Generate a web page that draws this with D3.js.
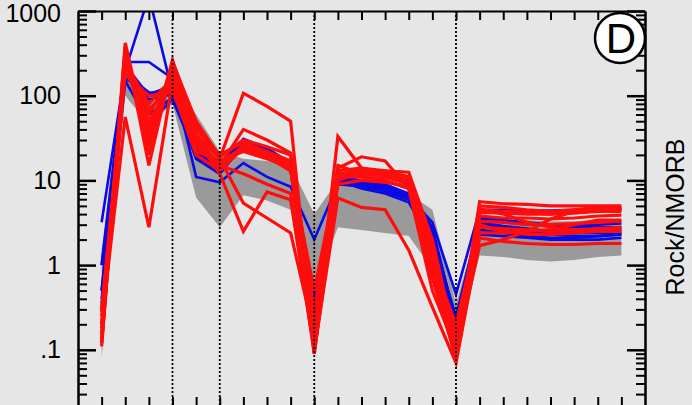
<!DOCTYPE html>
<html>
<head>
<meta charset="utf-8">
<script src="https://cdn.jsdelivr.net/npm/d3@7"></script>
<style>
  html, body { margin: 0; padding: 0; background: #e6e6e6; }
  svg { display: block; font-family: "Liberation Sans", Arial, sans-serif; }
</style>
</head>
<body>
<svg id="chart" width="692" height="405"></svg>
<script>
// Element positions along the spider diagram (23 normalised elements)
const positions = d3.range(23);

// Positions of the dotted group separators
const separators = [3, 5, 9, 15];

// Y-axis decade labels
const decadeTicks = [0.1, 1, 10, 100, 1000];
const decadeLabels = [".1", "1", "10", "100", "1000"];

// Reference field (grey envelope)
const envelopeUpper = [1.5, 250, 100, 150, 60, 22, 18, 17, 15, 4, 10, 9, 8, 7, 4.5, 0.35, 3.5, 3.5, 3.4, 3.3, 3.3, 3.4, 3.4];
const envelopeLower = [0.08, 100, 45, 80, 6.3, 2.8, 6.7, 5.8, 4.5, 0.5, 2.8, 2.6, 2.4, 2.2, 0.9, 0.1, 1.3, 1.25, 1.15, 1.1, 1.15, 1.25, 1.3];

// Sample group 1 (blue)
const blue1 = [3.2, 200, 1500, 110, 30, 15, 30, 24, 16, 0.35, 10, 10, 8.5, 6.5, 3.2, 0.45, 4.5, 4.5, 4.4, 4.4, 4.5, 4.5, 4.5];
const blue2 = [1.0, 250, 250, 160, 11, 9.5, 16, 11, 8.4, 2.0, 9, 9, 7.5, 6, 2.5, 0.22, 3.6, 3.4, 3.2, 3.0, 3.0, 3.0, 3.1];
const blue3 = [0.5, 180, 110, 100, 22, 14, 31, 24, 15, 0.23, 10, 9.5, 8, 6.8, 2.2, 0.18, 3.0, 2.8, 2.6, 2.5, 2.4, 2.4, 2.4];
const blue4 = [0.3, 150, 48, 90, 20, 13, 28, 22, 14, 0.3, 11, 10, 9, 7, 2.8, 0.2, 2.6, 2.4, 2.2, 2.1, 2.1, 2.2, 2.3];
const blue5 = [0.5, 230, 100, 120, 24, 16, 30, 23, 15, 0.4, 9, 8.5, 7.5, 6, 2.0, 0.25, 3.2, 2.9, 2.7, 2.5, 2.4, 2.5, 2.6];
const blue6 = [0.4, 200, 90, 105, 18, 12, 27, 21, 13, 0.2, 10, 8, 7, 5.5, 1.8, 0.15, 2.3, 2.2, 2.1, 2.0, 2.0, 2.0, 2.1];
const blue7 = [1.0, 160, 105, 130, 22, 15, 29, 22, 14, 0.25, 10.5, 9.5, 8.5, 6.5, 2.5, 0.17, 2.9, 2.7, 2.5, 2.3, 2.2, 2.2, 2.3];
const blue8 = [0.35, 220, 60, 95, 19, 12, 26, 20, 13, 0.3, 9.5, 9, 7.8, 6.2, 2.3, 0.2, 3.4, 3.3, 3.1, 2.9, 2.8, 2.8, 2.8];

// Sample group 2 (red)
const red1 = [0.15, 300, 40, 200, 35, 18, 107, 75, 50, 0.1, 12, 11, 10, 8, 1.0, 0.1, 5.6, 5.3, 5.2, 5.0, 5.0, 5.0, 5.0];
const red2 = [0.2, 56, 2.8, 150, 30, 15, 40, 30, 21, 0.12, 33, 14, 12, 10, 0.8, 0.08, 5.0, 4.8, 4.5, 4.3, 4.5, 4.8, 4.8];
const red3 = [0.11, 420, 25, 265, 40, 20, 28, 22, 17, 0.09, 14, 19, 17, 8, 0.5, 0.1, 1.7, 2.0, 2.5, 3.5, 4.3, 4.6, 4.6];
const red4 = [0.12, 380, 15, 240, 45, 18, 5.4, 3.6, 2.4, 0.15, 10, 12.5, 13, 12.5, 2, 0.12, 4.6, 4.0, 3.2, 2.8, 2.6, 2.6, 2.6];
const red5 = [0.13, 350, 30, 220, 30, 12, 2.5, 7.3, 5.9, 0.1, 6.2, 4.8, 4.5, 1.5, 0.32, 0.07, 2.1, 1.9, 1.8, 1.75, 1.75, 1.8, 1.8];
const red6 = [0.2, 280, 60, 180, 25, 16, 25, 20, 15, 0.13, 12, 13, 12, 9, 1.2, 0.09, 3.8, 3.6, 3.6, 3.5, 3.6, 3.8, 3.9];
const red7 = [0.25, 250, 80, 160, 22, 17, 22, 18, 14, 0.11, 15, 12, 11, 10, 1.8, 0.11, 4.2, 4.1, 4.0, 4.0, 4.1, 4.3, 4.3];
const red8 = [0.3, 200, 50, 140, 28, 14, 26, 21, 16, 0.2, 11, 11, 10, 8, 0.9, 0.13, 3.3, 3.2, 3.0, 3.0, 3.1, 3.2, 3.3];
const red9 = [0.12, 320, 20, 250, 50, 19, 30, 25, 20, 0.3, 13, 14, 13, 11, 1.3, 0.15, 2.8, 2.7, 2.6, 2.5, 2.6, 2.7, 2.8];
const red10 = [0.18, 260, 35, 190, 33, 15, 12, 9, 7, 0.09, 9, 10, 9.5, 8.5, 0.7, 0.08, 4.5, 4.3, 4.2, 4.0, 4.4, 4.5, 4.6];
const red11 = [0.15, 220, 70, 120, 20, 13, 24, 19, 13, 0.5, 12, 12, 11, 9, 1.1, 0.2, 3.0, 2.5, 2.3, 2.3, 2.4, 2.5, 2.5];
const red12 = [0.28, 180, 100, 110, 27, 16, 23, 20, 15, 0.1, 10, 13, 12, 10, 1.6, 0.1, 2.4, 2.4, 2.5, 2.6, 3.0, 3.4, 3.4];

const blueSeries = [blue1, blue2, blue3, blue4, blue5, blue6, blue7, blue8];
const redSeries = [red1, red2, red3, red4, red5, red6, red7, red8, red9, red10, red11, red12];

const svg = d3.select("#chart");
const W = 692, H = 405;
const plotLeft = 78, plotRight = 645, plotTop = 11, plotBottom = 409;

svg.append("rect").attr("width", W).attr("height", H).attr("fill", "#e6e6e6");

const x = d3.scaleLinear().domain([-1, 23]).range([plotLeft, plotRight]);
const y = d3.scaleLog().domain([0.02, 1000]).range([plotBottom, plotTop]);

svg.append("defs").append("clipPath").attr("id", "plotClip")
  .append("rect").attr("x", plotLeft).attr("y", plotTop)
  .attr("width", plotRight - plotLeft).attr("height", plotBottom - plotTop);

const plot = svg.append("g").attr("clip-path", "url(#plotClip)");

// Grey reference envelope
const area = d3.area()
  .x((d, i) => x(positions[i]))
  .y0((d, i) => y(envelopeLower[i]))
  .y1((d, i) => y(envelopeUpper[i]));
plot.append("path").datum(envelopeUpper).attr("d", area).attr("fill", "#9a9a9a");

const line = d3.line().x((d, i) => x(positions[i])).y(d => y(d));

plot.selectAll("path.blue").data(blueSeries).join("path")
  .attr("class", "blue").attr("d", line)
  .attr("fill", "none").attr("stroke", "#0a0ae6").attr("stroke-width", 2.6)
  .attr("stroke-linejoin", "miter");

plot.selectAll("path.red").data(redSeries).join("path")
  .attr("class", "red").attr("d", line)
  .attr("fill", "none").attr("stroke", "#ff0d0d").attr("stroke-width", 3.2)
  .attr("stroke-linejoin", "miter");

// Dotted group separators
plot.selectAll("line.sep").data(separators).join("line")
  .attr("class", "sep")
  .attr("x1", d => x(d)).attr("x2", d => x(d))
  .attr("y1", plotTop).attr("y2", plotBottom)
  .attr("stroke", "#000").attr("stroke-width", 1.8)
  .attr("stroke-dasharray", "2,2");

// Minor log ticks
const minorTicks = [];
[0.01, 0.1, 1, 10, 100].forEach(dec => {
  for (let k = 2; k <= 9; k++) {
    const v = dec * k;
    if (v >= 0.02 && v < 1000) minorTicks.push(v);
  }
});

function styleAxis(g, w) {
  g.select(".domain").attr("stroke", "#000").attr("stroke-width", 2);
  g.selectAll(".tick line").attr("stroke", "#000").attr("stroke-width", w);
}

// Left axis
const leftMajor = svg.append("g").attr("transform", `translate(${plotLeft},0)`)
  .call(d3.axisLeft(y).tickValues(decadeTicks).tickSize(-18).tickSizeOuter(0)
    .tickPadding(17).tickFormat((d, i) => decadeLabels[i]));
styleAxis(leftMajor, 2.5);
leftMajor.selectAll("text").attr("font-size", 25).attr("fill", "#000")
  .attr("font-family", '"Liberation Sans", Arial, sans-serif');
// keep the top label fully inside the frame
leftMajor.selectAll(".tick").filter(d => d === 1000).select("text").attr("dy", "0.4em");

const leftMinor = svg.append("g").attr("transform", `translate(${plotLeft},0)`)
  .call(d3.axisLeft(y).tickValues(minorTicks).tickSize(-9).tickSizeOuter(0).tickFormat(""));
styleAxis(leftMinor, 2);

// Right axis
const rightMajor = svg.append("g").attr("transform", `translate(${plotRight},0)`)
  .call(d3.axisRight(y).tickValues(decadeTicks).tickSize(-18).tickSizeOuter(0).tickFormat(""));
styleAxis(rightMajor, 2.5);
const rightMinor = svg.append("g").attr("transform", `translate(${plotRight},0)`)
  .call(d3.axisRight(y).tickValues(minorTicks).tickSize(-9).tickSizeOuter(0).tickFormat(""));
styleAxis(rightMinor, 2);

// Top and bottom category ticks
const topAxis = svg.append("g").attr("transform", `translate(0,${plotTop})`)
  .call(d3.axisTop(x).tickValues(positions).tickSize(-9).tickSizeOuter(0).tickFormat(""));
styleAxis(topAxis, 2);
const bottomAxis = svg.append("g").attr("transform", `translate(0,${plotBottom})`)
  .call(d3.axisBottom(x).tickValues(positions).tickSize(-12).tickSizeOuter(0).tickFormat(""));
styleAxis(bottomAxis, 2);

// Panel label
svg.append("circle").attr("cx", 620).attr("cy", 38).attr("r", 25)
  .attr("fill", "#fff").attr("stroke", "#000").attr("stroke-width", 2.5);
svg.append("text").attr("x", 621).attr("y", 38)
  .attr("text-anchor", "middle").attr("dominant-baseline", "central")
  .attr("font-size", 42).attr("fill", "#000").text("D");

// Axis title
svg.append("text")
  .attr("transform", "translate(684,217) rotate(-90)")
  .attr("text-anchor", "middle")
  .attr("font-size", 25).attr("fill", "#000")
  .text("Rock/NMORB");
</script>
</body>
</html>
